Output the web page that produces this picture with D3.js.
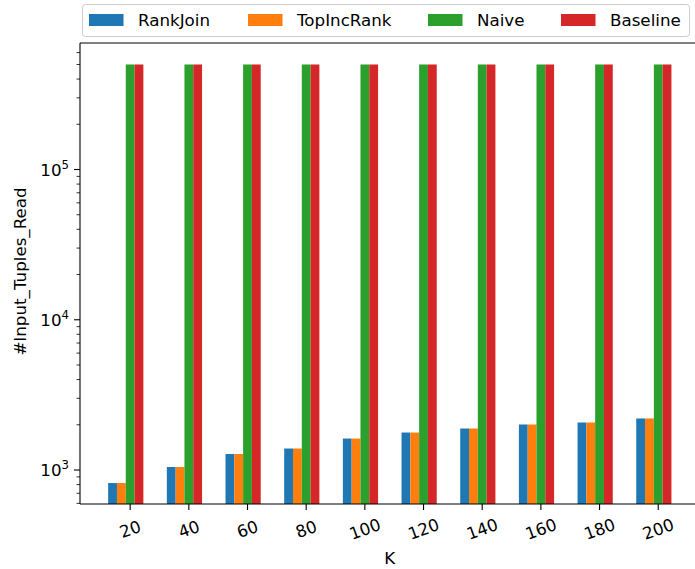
<!DOCTYPE html>
<html>
<head>
<meta charset="utf-8">
<script src="https://cdn.jsdelivr.net/npm/d3@7"></script>
<style>
  html, body { margin: 0; padding: 0; background: #fff; overflow: hidden; }
  svg text { font-family: "DejaVu Sans", sans-serif; fill: #000; }
</style>
</head>
<body>
<svg id="chart" width="695" height="569"></svg>
<script>
// Number of input tuples read per algorithm, for each K
const kValues = [20, 40, 60, 80, 100, 120, 140, 160, 180, 200];
const seriesNames = ["RankJoin", "TopIncRank", "Naive", "Baseline"];
const rankJoin   = [819, 1047, 1278, 1390, 1620, 1776, 1889, 2009, 2071, 2203];
const topIncRank = [819, 1047, 1278, 1390, 1620, 1776, 1889, 2009, 2071, 2203];
const naive      = [500000, 500000, 500000, 500000, 500000, 500000, 500000, 500000, 500000, 500000];
const baseline   = [500000, 500000, 500000, 500000, 500000, 500000, 500000, 500000, 500000, 500000];
const yTickExponents = [3, 4, 5];
const yLimits = [594, 695000];

const seriesValues = [rankJoin, topIncRank, naive, baseline];
const colors = ["#1f77b4", "#ff7f0e", "#2ca02c", "#d62728"];

const svg = d3.select("#chart");
const fontSize = 16.7;
const plot = { left: 80, right: 699.6, top: 43, bottom: 504 };
const barW = 0.15;

const x = d3.scaleLinear().domain([-0.78, kValues.length - 1 + 0.78]).range([plot.left, plot.right]);
const y = d3.scaleLog().domain(yLimits).range([plot.bottom, plot.top]);

// bars
seriesValues.forEach((vals, s) => {
  svg.append("g").selectAll("rect")
    .data(vals)
    .join("rect")
    .attr("x", (d, i) => x(i + (s - 2) * barW))
    .attr("width", x(barW) - x(0))
    .attr("y", d => y(d))
    .attr("height", d => plot.bottom - y(d))
    .attr("fill", colors[s]);
});

// spines (the right edge lies beyond the canvas)
const spine = svg.append("g").attr("stroke", "#000").attr("stroke-width", 1.1).attr("fill", "none");
spine.append("line").attr("x1", plot.left).attr("x2", plot.left).attr("y1", plot.top).attr("y2", plot.bottom);
spine.append("line").attr("x1", plot.left).attr("x2", plot.right).attr("y1", plot.bottom).attr("y2", plot.bottom);
spine.append("line").attr("x1", plot.left).attr("x2", plot.right).attr("y1", plot.top).attr("y2", plot.top);

// x axis ticks and rotated labels
const xAxis = svg.append("g");
kValues.forEach((k, i) => {
  const px = x(i + barW / 2);
  xAxis.append("line").attr("x1", px).attr("x2", px).attr("y1", plot.bottom).attr("y2", plot.bottom + 6)
    .attr("stroke", "#000").attr("stroke-width", 1.1);
  xAxis.append("text")
    .attr("transform", `translate(${px},${plot.bottom + 25}) rotate(-20)`)
    .attr("text-anchor", "middle")
    .attr("dominant-baseline", "central")
    .attr("font-size", fontSize)
    .text(k);
});
svg.append("text").attr("x", (plot.left + plot.right) / 2).attr("y", 564)
  .attr("text-anchor", "middle").attr("font-size", fontSize).text("K");

// y axis: major ticks with power-of-ten labels, minor ticks
const yAxis = svg.append("g");
const [lo, hi] = yLimits;
for (let e = Math.floor(Math.log10(lo)); e <= Math.ceil(Math.log10(hi)); e++) {
  for (let m = 1; m <= 9; m++) {
    const v = m * Math.pow(10, e);
    if (v < lo || v > hi) continue;
    const py = y(v);
    const len = m === 1 ? 6 : 3.5;
    yAxis.append("line").attr("x1", plot.left - len).attr("x2", plot.left).attr("y1", py).attr("y2", py)
      .attr("stroke", "#000").attr("stroke-width", m === 1 ? 1.1 : 0.8);
  }
}
yTickExponents.forEach(e => {
  const py = y(Math.pow(10, e));
  const t = yAxis.append("text")
    .attr("x", plot.left - 11).attr("y", py + 6)
    .attr("text-anchor", "end").attr("font-size", fontSize);
  t.append("tspan").text("10");
  t.append("tspan").attr("dy", -7).attr("font-size", fontSize * 0.7).text(e);
});
svg.append("text")
  .attr("transform", `translate(20,${(plot.top + plot.bottom) / 2 - 2}) rotate(-90)`)
  .attr("text-anchor", "middle").attr("dominant-baseline", "central")
  .attr("font-size", fontSize).text("#Input_Tuples_Read");

// legend
const legend = svg.append("g");
legend.append("rect").attr("x", 82.5).attr("y", 4.5).attr("width", 607).attr("height", 32)
  .attr("rx", 3).attr("fill", "#fff").attr("fill-opacity", 0.8)
  .attr("stroke", "#ccc").attr("stroke-width", 1);
const patchX = [89, 248, 428, 561];
seriesNames.forEach((name, s) => {
  legend.append("rect").attr("x", patchX[s]).attr("y", 14).attr("width", 34.5).attr("height", 12)
    .attr("fill", colors[s]);
  legend.append("text").attr("x", patchX[s] + 49).attr("y", 20)
    .attr("dominant-baseline", "central").attr("font-size", fontSize).text(name);
});
</script>
</body>
</html>
